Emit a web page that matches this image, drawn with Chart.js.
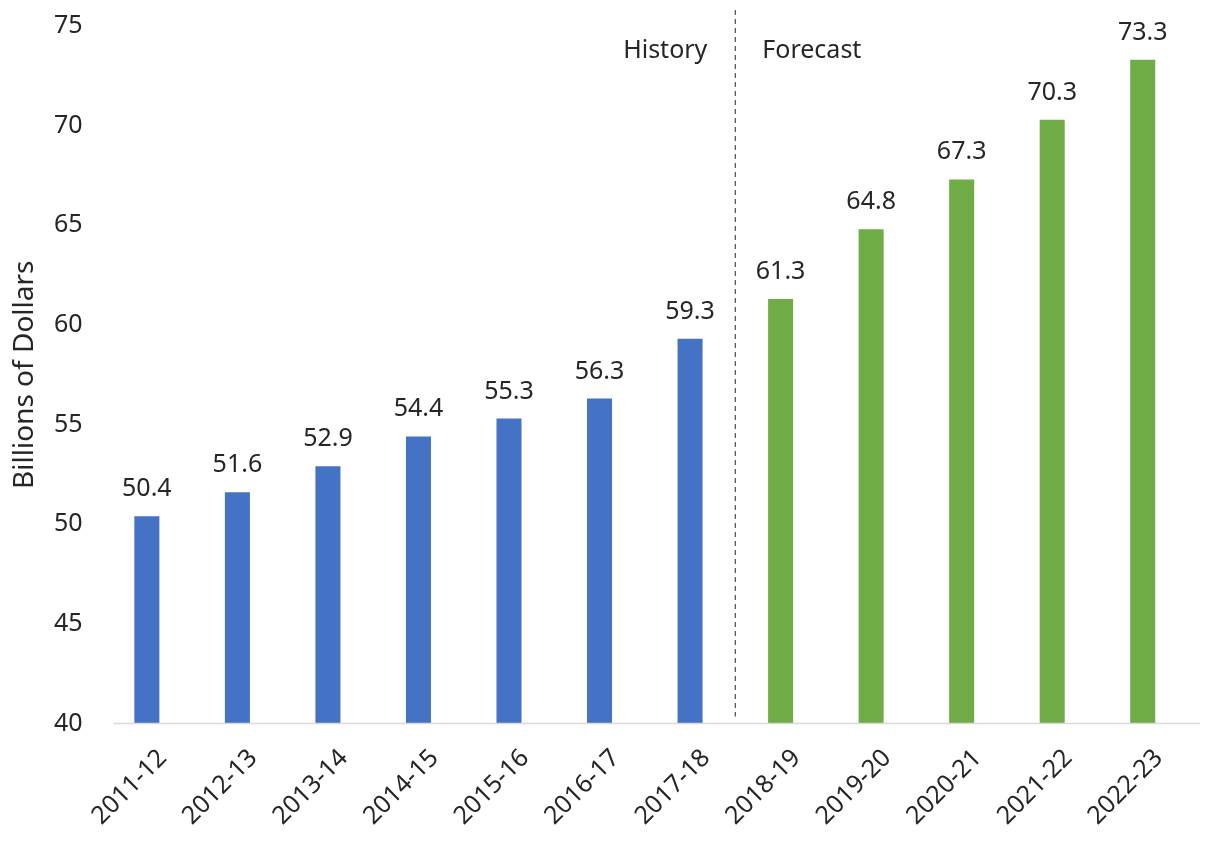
<!DOCTYPE html>
<html>
<head>
<meta charset="utf-8">
<script src="https://cdn.jsdelivr.net/npm/chart.js@4"></script>
<style>
  body { margin: 0; background: #fff; }
  #wrap { width: 1205px; height: 843px; }
</style>
</head>
<body>
<div id="wrap"><canvas id="chart"></canvas></div>
<script>
const years = ["2011-12", "2012-13", "2013-14", "2014-15", "2015-16", "2016-17",
               "2017-18", "2018-19", "2019-20", "2020-21", "2021-22", "2022-23"];
const spending = [50.4, 51.6, 52.9, 54.4, 55.3, 56.3, 59.3, 61.3, 64.8, 67.3, 70.3, 73.3];
const lastHistory = 6; // index of 2017-18
const barColors = years.map((y, i) => i <= lastHistory ? "#4472C4" : "#70AD47");

// value labels, the dashed history/forecast divider, its captions and the base line
const extras = {
  id: "extras",
  afterDatasetsDraw(chart) {
    const ctx = chart.ctx;
    const x = chart.scales.x, yS = chart.scales.y;
    ctx.save();

    // base line sits a little right of the bars, like the original
    ctx.strokeStyle = "#D9D9D9";
    ctx.lineWidth = 1.5;
    ctx.beginPath();
    ctx.moveTo(x.left + 12, yS.bottom);
    ctx.lineTo(x.right + 12, yS.bottom);
    ctx.stroke();

    ctx.font = "25px 'Noto Sans'";
    ctx.fillStyle = "#262626";
    ctx.textAlign = "center";
    ctx.textBaseline = "alphabetic";
    chart.getDatasetMeta(0).data.forEach((bar, i) => {
      ctx.fillText(spending[i].toFixed(1), bar.x, bar.y - 20);
    });

    const mid = (x.getPixelForValue(lastHistory) + x.getPixelForValue(lastHistory + 1)) / 2;
    ctx.strokeStyle = "#595959";
    ctx.lineWidth = 1.3;
    ctx.setLineDash([5, 4]);
    ctx.beginPath();
    ctx.moveTo(mid, 10);
    ctx.lineTo(mid, yS.bottom - 7);
    ctx.stroke();
    ctx.setLineDash([]);

    ctx.textBaseline = "middle";
    ctx.textAlign = "right";
    ctx.fillText("History", mid - 28, 51);
    ctx.textAlign = "left";
    ctx.fillText("Forecast", mid + 27, 51);
    ctx.restore();
  }
};

Chart.defaults.font.family = "'Noto Sans', sans-serif";
Chart.defaults.color = "#262626";

new Chart(document.getElementById("chart"), {
  type: "bar",
  data: {
    labels: years,
    datasets: [{
      label: "Billions of Dollars",
      data: spending,
      backgroundColor: barColors,
      barPercentage: 0.553,
      categoryPercentage: 0.5
    }]
  },
  options: {
    responsive: true,
    maintainAspectRatio: false,
    animation: false,
    layout: { padding: { top: 4, right: 17, left: 11, bottom: 0 } },
    plugins: {
      legend: { display: false },
      tooltip: { enabled: false }
    },
    scales: {
      x: {
        grid: { display: false },
        border: { display: false },
        ticks: { font: { size: 25 }, minRotation: 45, maxRotation: 45, padding: 12, labelOffset: 16 }
      },
      y: {
        min: 40,
        max: 75,
        ticks: { stepSize: 5, font: { size: 25 }, padding: 11 },
        grid: { display: false },
        border: { display: false },
        title: {
          display: true, text: "Billions of Dollars",
          font: { size: 28, lineHeight: 1 }, padding: { top: 0, bottom: 4 }
        }
      }
    }
  },
  plugins: [extras]
});
</script>
</body>
</html>
